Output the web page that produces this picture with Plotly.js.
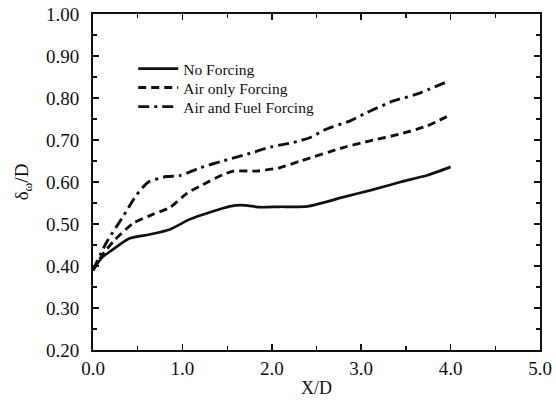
<!DOCTYPE html>
<html>
<head>
<meta charset="utf-8">
<script src="https://cdn.plot.ly/plotly-3.0.1.min.js"></script>
<style>html,body{margin:0;padding:0;background:#fff;}#chart{width:556px;height:411px;}</style>
</head>
<body>
<div id="chart"></div>
<script>
// Series names
var seriesNames = ["No Forcing", "Air only Forcing", "Air and Fuel Forcing"];

// No Forcing
var xNo = [0, 0.1, 0.2, 0.41, 0.63, 0.86, 1.08, 1.31, 1.53, 1.66, 1.87, 2.09, 2.40, 2.80, 3.10, 3.44, 3.74, 4.0];
var yNo = [0.39, 0.42, 0.436, 0.466, 0.475, 0.487, 0.511, 0.528, 0.542, 0.545, 0.540, 0.541, 0.542, 0.564, 0.580, 0.600, 0.616, 0.636];

// Air only Forcing
var xAir = [0, 0.1, 0.23, 0.45, 0.67, 0.86, 1.05, 1.23, 1.45, 1.57, 1.83, 2.09, 2.32, 2.80, 3.10, 3.43, 3.73, 4.0];
var yAir = [0.39, 0.425, 0.459, 0.502, 0.523, 0.539, 0.573, 0.594, 0.617, 0.626, 0.626, 0.634, 0.650, 0.682, 0.698, 0.714, 0.733, 0.760];

// Air and Fuel Forcing
var xFuel = [0, 0.15, 0.34, 0.49, 0.62, 0.82, 0.97, 1.20, 1.45, 1.72, 2.0, 2.24, 2.43, 2.61, 2.87, 3.06, 3.36, 3.62, 3.96];
var yFuel = [0.39, 0.456, 0.519, 0.570, 0.600, 0.613, 0.615, 0.634, 0.650, 0.666, 0.684, 0.694, 0.706, 0.726, 0.745, 0.765, 0.793, 0.809, 0.839];

// Axis ticks
var xTicks = [0, 1, 2, 3, 4, 5];
var xTickText = ["0.0", "1.0", "2.0", "3.0", "4.0", "5.0"];
var yTicks = [0.2, 0.3, 0.4, 0.5, 0.6, 0.7, 0.8, 0.9, 1.0];
var yTickText = ["0.20", "0.30", "0.40", "0.50", "0.60", "0.70", "0.80", "0.90", "1.00"];

var FONT = "Liberation Serif, Times New Roman, serif";
var INK = "#111";

var traces = [
  {x: xNo, y: yNo, name: seriesNames[0], mode: "lines", legend: "legend",
   line: {color: INK, width: 2.7, shape: "spline", smoothing: 0.6}},
  {x: xAir, y: yAir, name: seriesNames[1], mode: "lines", legend: "legend2",
   line: {color: INK, width: 2.9, dash: "8px,5px", shape: "spline", smoothing: 0.6}},
  {x: xFuel, y: yFuel, name: seriesNames[2], mode: "lines", legend: "legend3",
   line: {color: INK, width: 2.9, dash: "11px,5px,3px,5px", shape: "spline", smoothing: 0.6}}
];

function leg(yPaper) {
  return {
    x: 0.09, y: yPaper, xanchor: "left", yanchor: "middle",
    bgcolor: "rgba(0,0,0,0)", borderwidth: 0,
    font: {family: FONT, size: 15.5, color: INK},
    itemwidth: 40
  };
}

var layout = {
  width: 556, height: 411,
  margin: {l: 93, r: 16, t: 14, b: 61},
  paper_bgcolor: "#fff", plot_bgcolor: "#fff",
  font: {family: FONT, color: INK},
  showlegend: true,
  legend: leg(0.836),
  legend2: leg(0.780),
  legend3: leg(0.723),
  xaxis: {
    range: [0, 5], tickmode: "array", tickvals: xTicks, ticktext: xTickText,
    ticks: "inside", ticklen: 6, tickwidth: 1.5, tickcolor: INK,
    minor: {dtick: 0.5, ticks: "inside", ticklen: 4, tickwidth: 1.2, tickcolor: INK},
    showline: true, linecolor: INK, linewidth: 2, mirror: "allticks",
    showgrid: false, zeroline: false,
    tickfont: {family: FONT, size: 19, color: INK},
    ticklabelstandoff: 0,
    title: {text: "X/D", font: {family: FONT, size: 18, color: INK}, standoff: 4}
  },
  yaxis: {
    range: [0.2, 1.0], tickmode: "array", tickvals: yTicks, ticktext: yTickText,
    ticks: "inside", ticklen: 6, tickwidth: 1.5, tickcolor: INK,
    minor: {dtick: 0.05, ticks: "inside", ticklen: 4, tickwidth: 1.2, tickcolor: INK},
    showline: true, linecolor: INK, linewidth: 2, mirror: "allticks",
    showgrid: false, zeroline: false,
    tickfont: {family: FONT, size: 19, color: INK},
    ticklabelstandoff: 8,
    title: {text: "δ<sub>ω</sub>/D", font: {family: FONT, size: 19, color: INK}, standoff: 12}
  }
};

Plotly.newPlot("chart", traces, layout, {displayModeBar: false, staticPlot: true});
</script>
</body>
</html>
